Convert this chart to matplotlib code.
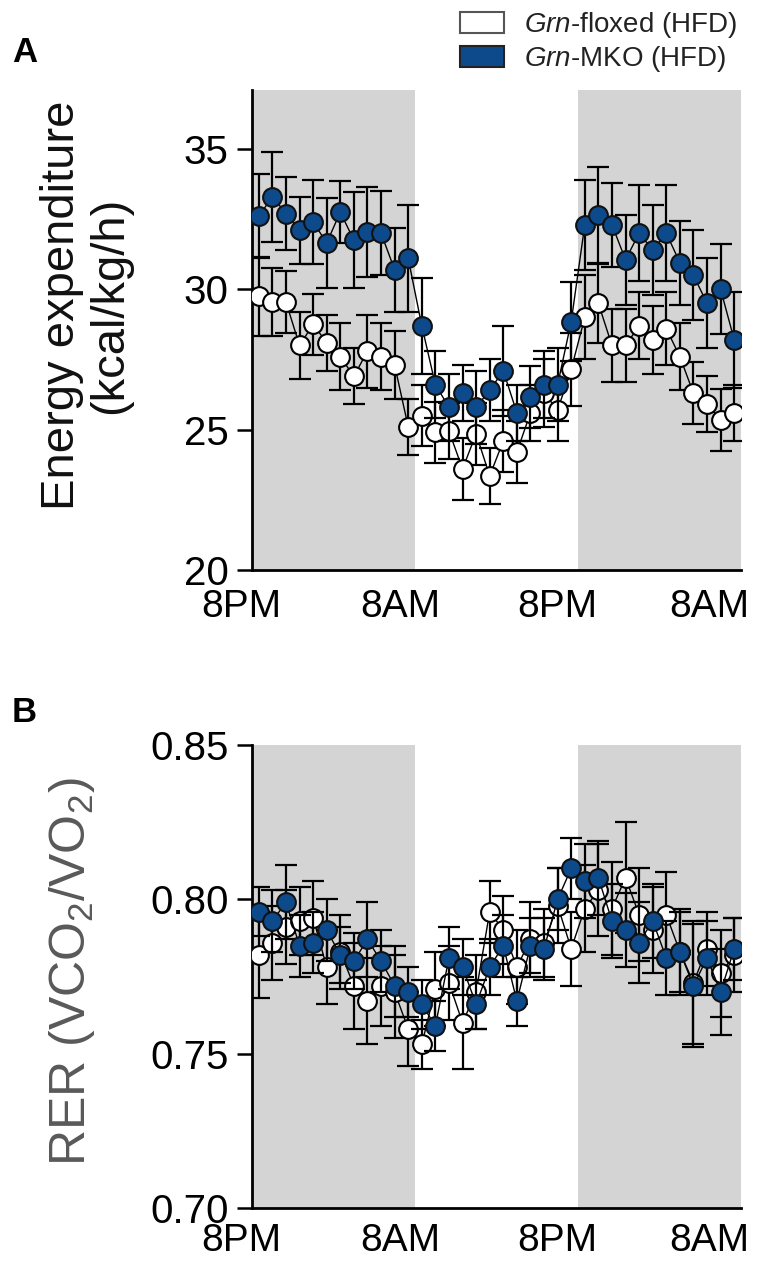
import numpy as np
import matplotlib
matplotlib.use('Agg')
import matplotlib.pyplot as plt
from matplotlib.patches import Patch

plt.rcParams['font.family'] = ['Liberation Sans', 'DejaVu Sans']
plt.rcParams['mathtext.fontset'] = 'custom'
plt.rcParams['mathtext.rm'] = 'Liberation Sans'
plt.rcParams['mathtext.it'] = 'Liberation Sans:italic'

# hourly bins, 8PM -> 8AM -> 8PM -> 8AM
hours = np.arange(36) + 0.5
tick_pos = [-0.8, 10.9, 22.5, 33.7]
tick_lab = ['8PM', '8AM', '8PM', '8AM']
dark = [(0, 12), (24, 36)]

# panel A: energy expenditure (kcal/kg/h)
ee_flox = [29.75, 29.55, 29.55, 28.0, 28.75, 28.1, 27.6, 26.9, 27.8, 27.6, 27.3, 25.1,
           25.5, 24.9, 24.95, 23.6, 24.85, 23.35, 24.6, 24.2, 25.6, 26.3, 25.7, 27.15,
           29.0, 29.5, 28.0, 28.0, 28.7, 28.2, 28.6, 27.6, 26.3, 25.9, 25.35, 25.6]
ee_flox_err = [1.4, 1.2, 1.1, 1.2, 1.1, 1.0, 1.2, 1.0, 1.3, 1.2, 1.2, 1.0,
               1.1, 1.1, 1.0, 1.1, 1.1, 1.0, 1.1, 1.1, 1.0, 1.2, 1.1, 1.3,
               1.5, 1.4, 1.3, 1.3, 1.2, 1.2, 1.3, 1.2, 1.1, 1.0, 1.1, 1.0]
ee_mko = [32.6, 33.3, 32.7, 32.1, 32.4, 31.65, 32.75, 31.75, 32.05, 32.0, 30.7, 31.1,
          28.7, 26.6, 25.8, 26.3, 25.8, 26.4, 27.1, 25.6, 26.15, 26.6, 26.6, 28.85,
          32.3, 32.65, 32.3, 31.05, 32.0, 31.4, 32.0, 30.95, 30.5, 29.5, 30.0, 28.2]
ee_mko_err = [1.5, 1.6, 1.3, 1.2, 1.5, 1.6, 1.1, 1.7, 1.6, 1.5, 1.5, 1.9,
              1.7, 1.2, 1.2, 1.0, 1.3, 1.1, 1.6, 1.0, 1.1, 1.2, 1.3, 1.4,
              1.6, 1.7, 1.5, 1.6, 1.7, 1.6, 1.7, 1.5, 1.6, 1.6, 1.6, 1.7]

# panel B: RER
rer_flox = [0.782, 0.786, 0.791, 0.793, 0.794, 0.778, 0.783, 0.772, 0.767, 0.772, 0.770, 0.758,
            0.753, 0.771, 0.773, 0.760, 0.770, 0.796, 0.790, 0.778, 0.787, 0.786, 0.798, 0.784,
            0.797, 0.803, 0.797, 0.807, 0.795, 0.790, 0.795, 0.783, 0.773, 0.784, 0.776, 0.782]
rer_flox_err = [0.014, 0.012, 0.012, 0.011, 0.012, 0.012, 0.012, 0.014, 0.014, 0.013, 0.015, 0.012,
                0.008, 0.012, 0.012, 0.015, 0.012, 0.010, 0.011, 0.012, 0.012, 0.011, 0.012, 0.012,
                0.014, 0.015, 0.015, 0.018, 0.015, 0.014, 0.014, 0.014, 0.020, 0.012, 0.014, 0.012]
rer_mko = [0.796, 0.793, 0.799, 0.785, 0.786, 0.790, 0.782, 0.780, 0.787, 0.780, 0.772, 0.770,
           0.766, 0.759, 0.781, 0.778, 0.766, 0.778, 0.785, 0.767, 0.785, 0.784, 0.800, 0.810,
           0.806, 0.807, 0.793, 0.790, 0.786, 0.793, 0.781, 0.783, 0.772, 0.781, 0.770, 0.784]
rer_mko_err = [0.008, 0.010, 0.012, 0.010, 0.010, 0.010, 0.009, 0.009, 0.012, 0.010, 0.010, 0.008,
               0.008, 0.008, 0.010, 0.009, 0.008, 0.009, 0.010, 0.008, 0.009, 0.010, 0.010, 0.010,
               0.012, 0.012, 0.012, 0.012, 0.013, 0.012, 0.012, 0.013, 0.020, 0.012, 0.014, 0.010]

blue = '#0d4a8c'
gray = '#d4d4d4'

fig = plt.figure(figsize=(7.58, 12.66), dpi=100)
axA = fig.add_axes([252 / 758, 1 - 570 / 1266, 489 / 758, 480 / 1266])
axB = fig.add_axes([252 / 758, 1 - 1208 / 1266, 489 / 758, 463 / 1266])


def draw(ax, yf, yfe, ym, yme, ylim, yticks, yticklabels, lab_off):
    for a, b in dark:
        ax.axvspan(a, b, color=gray, lw=0, zorder=0)
    ax.errorbar(hours, yf, yerr=yfe, fmt='none', ecolor='black', elinewidth=1.6,
                capsize=8, capthick=1.6, zorder=2)
    ax.plot(hours, yf, color='black', lw=1, zorder=2)
    ax.plot(hours, yf, 'o', ms=13.5, mfc='white', mec='black', mew=1.5, zorder=3)
    ax.errorbar(hours, ym, yerr=yme, fmt='none', ecolor='black', elinewidth=1.6,
                capsize=8, capthick=1.6, zorder=4)
    ax.plot(hours, ym, color='black', lw=1, zorder=4)
    ax.plot(hours, ym, 'o', ms=13.5, mfc=blue, mec='#111111', mew=1.5, zorder=5)
    ax.set_yticks(yticks)
    ax.set_yticklabels(yticklabels)
    ax.set_xticks([])
    ax.set_xlim(0, 36)
    ax.set_ylim(*ylim)
    for p, lab in zip(tick_pos, tick_lab):
        ax.annotate(lab, xy=(p, 0), xycoords=('data', 'axes fraction'),
                    xytext=(0, lab_off), textcoords='offset points',
                    ha='center', va='top', fontsize=28, annotation_clip=False)
    ax.tick_params(axis='y', length=11, width=1.8, labelsize=29, pad=6)
    for s in ['top', 'right']:
        ax.spines[s].set_visible(False)
    for s in ['left', 'bottom']:
        ax.spines[s].set_linewidth(2)


draw(axA, ee_flox, ee_flox_err, ee_mko, ee_mko_err, (20, 37.1), [20, 25, 30, 35],
     ['20', '25', '30', '35'], -14)
draw(axB, rer_flox, rer_flox_err, rer_mko, rer_mko_err, (0.70, 0.85),
     [0.70, 0.75, 0.80, 0.85], ['0.70', '0.75', '0.80', '0.85'], -11)

fig.text(86 / 758, 1 - 305 / 1266, 'Energy expenditure\n(kcal/kg/h)', rotation=90,
         ha='center', va='center', fontsize=34, linespacing=1.1, color='#111111')
fig.text(72 / 758, 1 - 972 / 1266, r'RER (VCO$_\mathregular{2}$/VO$_\mathregular{2}$)',
         rotation=90, ha='center', va='center', fontsize=36, color='#595959')

fig.text(12 / 758, 1 - 52 / 1266, 'A', fontsize=25, fontweight='bold', va='center')
fig.text(12 / 758, 1 - 712 / 1266, 'B', fontsize=25, fontweight='bold', va='center')

handles = [Patch(facecolor='white', edgecolor='#555555', lw=1.5),
           Patch(facecolor=blue, edgecolor='#222222', lw=1.5)]
labels = [r'$\it{Grn}$-floxed (HFD)', r'$\it{Grn}$-MKO (HFD)']
fig.legend(handles, labels, loc='upper right', bbox_to_anchor=(1.005, 1.012), frameon=False,
           fontsize=20, handlelength=1.6, handleheight=0.8, handletextpad=0.7,
           labelspacing=0.15, labelcolor='#222222')

fig.savefig('out.png', dpi=100)
